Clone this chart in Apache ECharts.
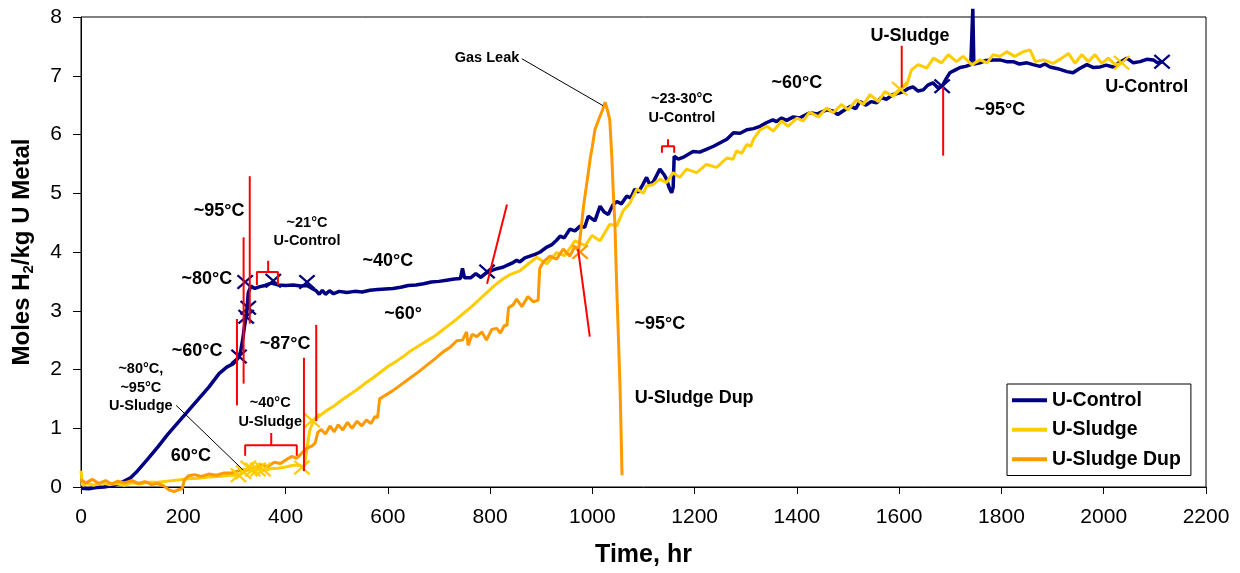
<!DOCTYPE html>
<html>
<head>
<meta charset="utf-8">
<script src="https://cdn.jsdelivr.net/npm/echarts@6/dist/echarts.min.js"></script>
<style>
  html, body { margin: 0; padding: 0; background: #fff; }
  #chart { width: 1240px; height: 573px; }
</style>
</head>
<body>
<div id="chart"></div>
<script>
// hydrogen generation, moles H2 per kg U metal vs time (hr)
var uControl = [
  [0,-0.02],[15,-0.03],[30,-0.01],[45,0.0],[60,0.02],[75,0.06],[96,0.15],[110,0.27],[130,0.47],[150,0.68],
  [170,0.9],[190,1.1],[210,1.3],[230,1.5],[250,1.7],[270,1.93],[285,2.04],[298,2.1],[307,2.19],[312,2.3],
  [316,2.5],[320,2.75],[324,2.95],[327,3.3],[332,3.42],[340,3.38],[350,3.41],
  [360,3.43],[372,3.47],[385,3.44],[400,3.43],[415,3.44],[430,3.42],[442,3.43],[452,3.38],[460,3.34],[466,3.28],
  [472,3.35],[478,3.28],[486,3.34],[494,3.29],[505,3.33],[520,3.31],[535,3.33],[550,3.32],[565,3.35],[580,3.36],
  [595,3.37],[610,3.38],[625,3.40],[640,3.43],[655,3.44],[670,3.46],[685,3.49],[700,3.5],[715,3.52],[730,3.54],
  [742,3.55],[746,3.72],[750,3.56],[762,3.56],[772,3.63],[782,3.57],[792,3.64],[805,3.69],[815,3.72],[825,3.74],
  [835,3.78],[845,3.82],[852,3.86],[858,3.83],[868,3.9],[878,3.93],[888,3.96],[898,4.0],[910,4.08],[920,4.12],
  [930,4.2],[937,4.27],[945,4.24],[956,4.39],[966,4.36],[976,4.44],[985,4.42],[992,4.61],[1005,4.53],[1015,4.78],
  [1023,4.68],[1031,4.64],[1040,4.80],[1048,4.86],[1057,4.82],[1067,4.95],[1075,4.92],[1083,5.07],[1090,5.02],[1097,5.12],
  [1106,5.27],[1112,5.15],[1119,5.19],[1132,5.41],[1140,5.32],[1145,5.24],[1150,5.1],[1155,5.01],[1158,5.1],[1160,5.63],
  [1168,5.58],[1177,5.61],[1187,5.66],[1197,5.71],[1210,5.70],[1224,5.75],[1237,5.80],[1250,5.86],[1263,5.92],[1276,6.03],
  [1289,6.02],[1302,6.08],[1315,6.1],[1328,6.14],[1340,6.2],[1353,6.25],[1360,6.22],[1370,6.28],[1380,6.24],[1393,6.30],
  [1405,6.28],[1425,6.37],[1440,6.35],[1458,6.42],[1470,6.40],[1480,6.34],[1490,6.40],[1505,6.48],[1515,6.44],[1523,6.56],
  [1535,6.50],[1545,6.56],[1556,6.54],[1565,6.63],[1575,6.60],[1588,6.68],[1598,6.70],[1608,6.73],[1617,6.78],[1627,6.81],
  [1637,6.74],[1647,6.76],[1656,6.84],[1666,6.88],[1675,6.80],[1684,6.82],[1692,6.95],[1699,7.05],[1710,7.10],[1719,7.14],
  [1730,7.16],[1740,7.19],[1744,8.14],[1746,7.2],[1758,7.22],[1770,7.26],[1784,7.27],[1797,7.27],[1810,7.24],[1823,7.24],
  [1835,7.2],[1850,7.22],[1862,7.19],[1875,7.16],[1885,7.2],[1895,7.15],[1910,7.12],[1928,7.07],[1940,7.05],[1952,7.12],
  [1967,7.19],[1980,7.14],[1993,7.15],[2005,7.18],[2018,7.15],[2030,7.22],[2045,7.3],[2058,7.22],[2071,7.24],[2084,7.28],
  [2097,7.27],[2105,7.22],[2116,7.24]
];

var uSludge = [
  [0,0.28],[3,0.03],[12,0.06],[25,0.03],[40,0.07],[55,0.04],[70,0.06],[85,0.03],[100,0.07],[115,0.05],
  [130,0.08],[150,0.08],[170,0.1],[190,0.12],[210,0.14],[230,0.15],[250,0.17],[270,0.18],[290,0.2],[305,0.2],
  [318,0.25],[328,0.3],[338,0.26],[348,0.32],[358,0.28],[370,0.31],[385,0.32],[400,0.34],[415,0.37],[428,0.37],
  [436,0.33],[441,0.6],[447,0.95],[455,1.14],[465,1.2],[480,1.3],[495,1.38],[510,1.48],[525,1.57],[540,1.66],
  [555,1.76],[570,1.85],[585,1.95],[600,2.05],[615,2.13],[630,2.22],[645,2.32],[660,2.4],[675,2.48],[690,2.56],
  [705,2.66],[720,2.76],[735,2.86],[750,2.97],[765,3.08],[780,3.2],[795,3.32],[810,3.44],[825,3.54],[840,3.62],
  [858,3.68],[875,3.8],[891,3.91],[911,3.80],[930,3.99],[946,3.94],[966,4.19],[986,4.11],[999,4.28],[1015,4.19],
  [1034,4.47],[1048,4.45],[1060,4.70],[1074,4.84],[1087,5.07],[1100,5.0],[1106,5.12],[1119,5.15],[1132,5.24],[1145,5.18],
  [1158,5.35],[1171,5.27],[1184,5.41],[1204,5.35],[1223,5.49],[1243,5.44],[1263,5.6],[1275,5.58],[1282,5.72],[1292,5.68],
  [1302,5.83],[1310,5.80],[1315,5.92],[1328,6.08],[1341,6.14],[1354,6.06],[1370,6.23],[1383,6.14],[1400,6.28],[1412,6.23],
  [1425,6.38],[1442,6.30],[1458,6.45],[1471,6.37],[1487,6.51],[1500,6.42],[1517,6.59],[1530,6.51],[1543,6.68],[1559,6.56],
  [1572,6.73],[1588,6.65],[1601,6.76],[1615,6.85],[1624,7.10],[1637,7.19],[1654,7.13],[1667,7.30],[1683,7.22],[1696,7.36],
  [1712,7.24],[1725,7.33],[1742,7.19],[1758,7.27],[1772,7.22],[1784,7.36],[1797,7.33],[1810,7.41],[1826,7.33],[1843,7.41],
  [1856,7.44],[1866,7.24],[1882,7.27],[1901,7.21],[1918,7.30],[1931,7.38],[1944,7.21],[1957,7.36],[1970,7.24],[1983,7.36],
  [1996,7.21],[2009,7.30],[2022,7.19],[2035,7.21]
];

var uSludgeDup = [
  [0,0.12],[10,0.07],[22,0.13],[35,0.06],[48,0.11],[60,0.05],[72,0.1],[85,0.07],[100,0.11],[112,0.06],
  [125,0.09],[138,0.04],[150,0.06],[162,0.02],[172,-0.05],[182,-0.08],[192,-0.04],[198,-0.03],[202,0.12],[210,0.19],
  [222,0.21],[235,0.18],[250,0.22],[265,0.2],[280,0.24],[295,0.24],[310,0.28],[325,0.3],[340,0.33],[352,0.38],
  [365,0.35],[378,0.42],[390,0.4],[402,0.47],[412,0.52],[422,0.49],[432,0.58],[442,0.66],[452,0.7],[458,0.75],
  [463,0.93],[470,0.98],[478,0.9],[487,1.04],[495,0.94],[503,1.06],[512,0.97],[521,1.1],[530,1.0],[540,1.12],
  [549,1.04],[558,1.14],[567,1.08],[575,1.2],[580,1.18],[584,1.5],[595,1.56],[610,1.64],[624,1.73],[643,1.85],
  [660,1.96],[676,2.07],[692,2.18],[708,2.3],[722,2.38],[735,2.49],[746,2.5],[754,2.64],[757,2.41],[765,2.6],
  [774,2.56],[784,2.64],[793,2.5],[803,2.68],[813,2.7],[820,2.62],[828,2.75],[833,2.75],[836,3.05],[845,3.1],
  [852,3.2],[862,3.07],[874,3.24],[885,3.15],[894,3.18],[897,3.72],[904,3.83],[917,3.93],[930,3.88],[943,4.05],
  [956,3.93],[966,4.1],[973,4.02],[978,4.4],[983,4.8],[988,5.1],[992,5.35],[996,5.6],[1000,5.8],[1005,6.08],
  [1010,6.2],[1015,6.31],[1020,6.42],[1025,6.55],[1030,6.4],[1034,6.25],[1038,5.63],[1041,5.0],[1044,4.5],[1048,3.3],
  [1050,2.8],[1054,1.73],[1056,1.0],[1058,0.2]
];

// X markers on each run (temperature change points)
var controlMarks = [[309,2.22],[323,2.9],[327,3.05],[321,3.49],[376,3.51],[442,3.49],[794,3.67],[1684,6.82],[2114,7.24]];
var sludgeMarks = [[308,0.2],[318,0.25],[327,0.33],[336,0.3],[346,0.3],[356,0.3],[432,0.33],[452,1.13],[1601,6.78],[2035,7.22]];
var dupMarks = [[976,4.0]];

// red dividers and brackets
var redLines = [
  [[305,2.86],[305,1.39]],
  [[318,4.25],[318,1.76]],
  [[330,5.29],[330,2.78]],
  [[344,3.44],[344,3.66],[366,3.66],[366,3.85],[366,3.66],[385,3.66],[385,3.44]],
  [[436,2.2],[436,0.27]],
  [[460,2.76],[460,1.12]],
  [[321,0.53],[321,0.71],[372,0.71],[372,0.92],[372,0.71],[422,0.71],[422,0.53]],
  [[833,4.81],[794,3.46]],
  [[972,4.05],[995,2.56]],
  [[1136,5.69],[1136,5.80],[1148,5.80],[1148,5.92],[1148,5.80],[1160,5.80],[1160,5.69]],
  [[1605,7.51],[1605,6.8]],
  [[1686,6.81],[1686,5.64]]
];

// annotations: text, x, y
var bigNotes = [
  ['~95°C', 270, 4.69], ['~80°C', 246, 3.54], ['~40°C', 600, 3.85], ['~60°C', 227, 2.31],
  ['60°C', 215, 0.53], ['~87°C', 399, 2.44], ['~60°', 630, 2.95], ['~60°C', 1400, 6.88],
  ['~95°C', 1132, 2.78], ['U-Sludge Dup', 1199, 1.51], ['U-Sludge', 1621, 7.68],
  ['~95°C', 1797, 6.41], ['U-Control', 2084, 6.81]
];
var smallNotes = [
  ['~21°C\nU-Control', 442, 4.34], ['~80°C,\n~95°C\nU-Sludge', 117, 1.69],
  ['~40°C\nU-Sludge', 370, 1.27], ['Gas Leak', 794, 7.31], ['~23-30°C\nU-Control', 1175, 6.44]
];
var arrows = [
  [[862,7.29],[1021,6.49]],
  [[186,1.39],[317,0.29]]
];

var FONT = '"Liberation Sans", Arial, sans-serif';
var X_PATH = 'path://M0,1 L1,0 L5,4 L9,0 L10,1 L6,5 L10,9 L9,10 L5,6 L1,10 L0,9 L4,5 Z';

var chart = echarts.init(document.getElementById('chart'));

function dataLine(name, data, color, width) {
  return {
    name: name, type: 'line', data: data, showSymbol: false, clip: false,
    lineStyle: { color: color, width: width }, itemStyle: { color: color },
    z: 3, silent: true
  };
}
function markSeries(data, color) {
  return {
    type: 'scatter', data: data, symbol: X_PATH, symbolSize: [17, 15],
    itemStyle: { color: color, opacity: 1 }, z: 4, silent: true
  };
}
function noteSeries(list, size, lh) {
  return {
    type: 'scatter', symbolSize: 0, z: 6, silent: true,
    itemStyle: { color: '#000', opacity: 1 },
    data: list.map(function (n) { return { value: [n[1], n[2]], name: n[0] }; }),
    label: {
      show: true, position: 'inside', formatter: '{b}',
      fontFamily: FONT, fontWeight: 'bold', fontSize: size, lineHeight: lh,
      color: '#000', textBorderWidth: 0, opacity: 1
    }
  };
}

var series = [
  dataLine('U-Control', uControl, '#000080', 3.5),
  dataLine('U-Sludge', uSludge, '#FFCC00', 3),
  dataLine('U-Sludge Dup', uSludgeDup, '#FF9900', 3),
  markSeries(controlMarks, '#000080'),
  markSeries(sludgeMarks, '#FFCC00'),
  markSeries(dupMarks, '#FF9900')
];
redLines.forEach(function (seg) {
  series.push({
    type: 'line', data: seg, showSymbol: false, silent: true, z: 5,
    lineStyle: { color: '#FF0000', width: 2 }
  });
});
series.push(noteSeries(bigNotes, 18, 22));
series.push(noteSeries(smallNotes, 14.5, 18.5));
series.push({
  type: 'line', data: [], silent: true,
  markLine: {
    silent: true, symbol: ['none', 'arrow'], symbolSize: [0, 11],
    lineStyle: { color: '#000', width: 1, type: 'solid' },
    label: { show: false },
    data: arrows.map(function (a) { return [{ coord: a[0] }, { coord: a[1] }]; })
  }
});

chart.setOption({
  animation: false,
  backgroundColor: '#fff',
  grid: { left: 81, right: 34, top: 17, bottom: 84, show: true, borderColor: '#000', borderWidth: 1 },
  legend: {
    data: ['U-Control', 'U-Sludge', 'U-Sludge Dup'],
    orient: 'vertical', left: 1007, top: 384,
    backgroundColor: '#fff', borderColor: '#000', borderWidth: 1,
    padding: [6, 10, 6, 5], itemGap: 9,
    icon: 'rect', itemWidth: 35, itemHeight: 4,
    textStyle: { fontFamily: FONT, fontWeight: 'bold', fontSize: 19.5, color: '#000', lineHeight: 20.5 }
  },
  xAxis: {
    type: 'value', min: 0, max: 2200, interval: 200,
    name: 'Time, hr', nameLocation: 'middle', nameGap: 56,
    nameTextStyle: { fontFamily: FONT, fontWeight: 'bold', fontSize: 25, color: '#000' },
    axisLine: { lineStyle: { color: '#000', width: 1 } },
    axisTick: { length: 7, lineStyle: { color: '#000' } },
    axisLabel: {
      fontFamily: FONT, fontSize: 21, color: '#000', margin: 20,
      formatter: function (v) { return String(v); }
    },
    splitLine: { show: false }
  },
  yAxis: {
    type: 'value', min: 0, max: 8, interval: 1,
    name: 'Moles H{sub|2}/kg U Metal', nameLocation: 'middle', nameGap: 45,
    nameTextStyle: {
      fontFamily: FONT, fontWeight: 'bold', fontSize: 24, color: '#000',
      rich: { sub: { fontFamily: FONT, fontWeight: 'bold', fontSize: 15, verticalAlign: 'bottom', padding: [12, 0, 0, 0] } }
    },
    axisLine: { lineStyle: { color: '#000', width: 1 } },
    axisTick: { length: 8, lineStyle: { color: '#000' } },
    axisLabel: { fontFamily: FONT, fontSize: 21, color: '#000', margin: 19 },
    splitLine: { show: false }
  },
  series: series
});
</script>
</body>
</html>
